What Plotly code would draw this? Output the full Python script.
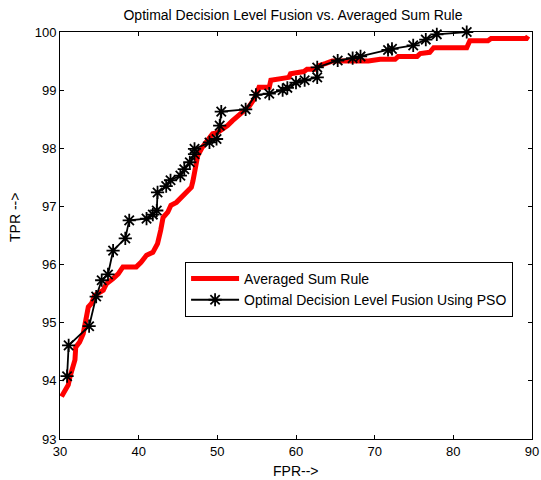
import plotly.graph_objects as go

# Averaged Sum Rule (red)
asr_fpr = [30.2, 31.05, 31.27, 31.6, 31.9, 32.0, 32.5, 32.95, 33.2, 33.6, 34.0, 34.4, 35.5, 35.9,
           36.75, 37.4, 38.0, 39.7, 40.3, 41.0, 41.8, 42.4, 42.8, 43.1, 43.7, 44.1, 44.8, 45.4,
           46.0, 46.7, 46.9, 47.3, 47.5, 48.1, 49.0, 49.4, 50.0, 50.7, 51.3, 51.9, 52.6, 53.2,
           54.05, 54.7, 55.3, 56.6, 56.8, 59.1, 59.3, 61.0, 61.4, 62.5, 62.9, 63.8, 64.6, 69.2,
           70.7, 72.6, 73.0, 75.4, 75.8, 77.0, 77.5, 81.7, 82.1, 84.4, 84.8, 89.3, 89.5]
asr_tpr = [93.73, 93.93, 94.07, 94.19, 94.36, 94.58, 94.67, 94.81, 95.04, 95.27, 95.33, 95.47, 95.56, 95.67,
           95.76, 95.84, 95.96, 95.96, 96.04, 96.16, 96.21, 96.36, 96.59, 96.81, 96.90, 97.02, 97.07, 97.16,
           97.22, 97.33, 97.44, 97.67, 97.87, 98.02, 98.16, 98.25, 98.27, 98.33, 98.39, 98.47, 98.56, 98.62,
           98.72, 98.85, 99.05, 99.05, 99.17, 99.22, 99.28, 99.32, 99.36, 99.36, 99.42, 99.46, 99.50, 99.50,
           99.53, 99.53, 99.58, 99.58, 99.63, 99.65, 99.73, 99.73, 99.85, 99.85, 99.89, 99.89, 99.93]

# Optimal Decision Level Fusion Using PSO (black, asterisks)
pso_fpr = [30.9, 31.1, 33.7, 34.6, 35.3, 36.1, 36.75, 38.3, 38.8, 41.0, 41.8, 42.3, 42.4, 43.5,
           44.05, 45.3, 45.8, 46.5, 47.1, 47.1, 49.0, 49.9, 50.3, 50.5, 53.6, 54.9, 56.6, 58.3,
           58.9, 60.0, 61.1, 62.7, 62.7, 65.3, 67.2, 68.2, 71.7, 72.2, 74.9, 76.5, 77.9, 81.7]
pso_tpr = [94.08, 94.61, 94.94, 95.45, 95.73, 95.83, 96.24, 96.45, 96.76, 96.79, 96.86, 96.93, 97.24, 97.35,
           97.45, 97.53, 97.64, 97.76, 97.90, 97.99, 98.10, 98.16, 98.39, 98.63, 98.67, 98.92, 98.94, 99.0,
           99.04, 99.13, 99.17, 99.22, 99.39, 99.51, 99.55, 99.58, 99.69, 99.71, 99.77, 99.87, 99.96, 100.0]

x_ticks = [30, 40, 50, 60, 70, 80, 90]
y_ticks = [93, 94, 95, 96, 97, 98, 99, 100]

FONT = "Liberation Sans, Arial, sans-serif"
W, H = 541, 480

fig = go.Figure()
fig.add_trace(go.Scatter(
    x=asr_fpr, y=asr_tpr, mode="lines", name="Averaged Sum Rule",
    line=dict(color="#ff0000", width=5),
))
fig.add_trace(go.Scatter(
    x=pso_fpr, y=pso_tpr, mode="lines+markers", name="Optimal Decision Level Fusion Using PSO",
    line=dict(color="black", width=1.8),
    marker=dict(symbol="asterisk-open", size=11, color="black", line=dict(color="black", width=1.8)),
    cliponaxis=False,
))

axis_common = dict(
    showline=True, linecolor="black", linewidth=1, mirror="ticks",
    ticks="inside", ticklen=4, tickcolor="black", showgrid=False, zeroline=False,
    tickfont=dict(family=FONT, size=13, color="black"), automargin=False,
)

fig.update_layout(
    width=W, height=H,
    margin=dict(l=60, r=9, t=32, b=41),
    paper_bgcolor="white", plot_bgcolor="white",
    font=dict(family=FONT, size=13, color="black"),
    title=dict(text="Optimal Decision Level Fusion vs. Averaged Sum Rule",
               x=293 / W, xanchor="center", y=1 - 15.5 / H, yanchor="middle",
               font=dict(family=FONT, size=14, color="black")),
    xaxis=dict(range=[30, 90], tickvals=x_ticks, ticktext=[str(v) for v in x_ticks], **axis_common),
    yaxis=dict(range=[93, 100], tickvals=y_ticks, ticktext=[str(v) for v in y_ticks], **axis_common),
    legend=dict(x=0.265, y=0.435, xanchor="left", yanchor="top",
                bordercolor="black", borderwidth=1, bgcolor="white",
                font=dict(family=FONT, size=14, color="black"),
                tracegroupgap=0, itemwidth=48),
    showlegend=True,
    hovermode=False,
    annotations=[
        dict(text="FPR-->", xref="paper", yref="paper", x=(296 - 60) / 472, y=-(471 - 439) / 407,
             xanchor="center", yanchor="middle", showarrow=False,
             font=dict(family=FONT, size=14, color="black")),
        dict(text="TPR -->", xref="paper", yref="paper", x=-(60 - 15) / 472, y=(439 - 218) / 407,
             xanchor="center", yanchor="middle", showarrow=False, textangle=-90,
             font=dict(family=FONT, size=14, color="black")),
    ],
)

fig.write_html(
    "out.html",
    config={"displayModeBar": False},
    post_script="document.body.style.margin='0';document.body.style.overflow='hidden';",
)
